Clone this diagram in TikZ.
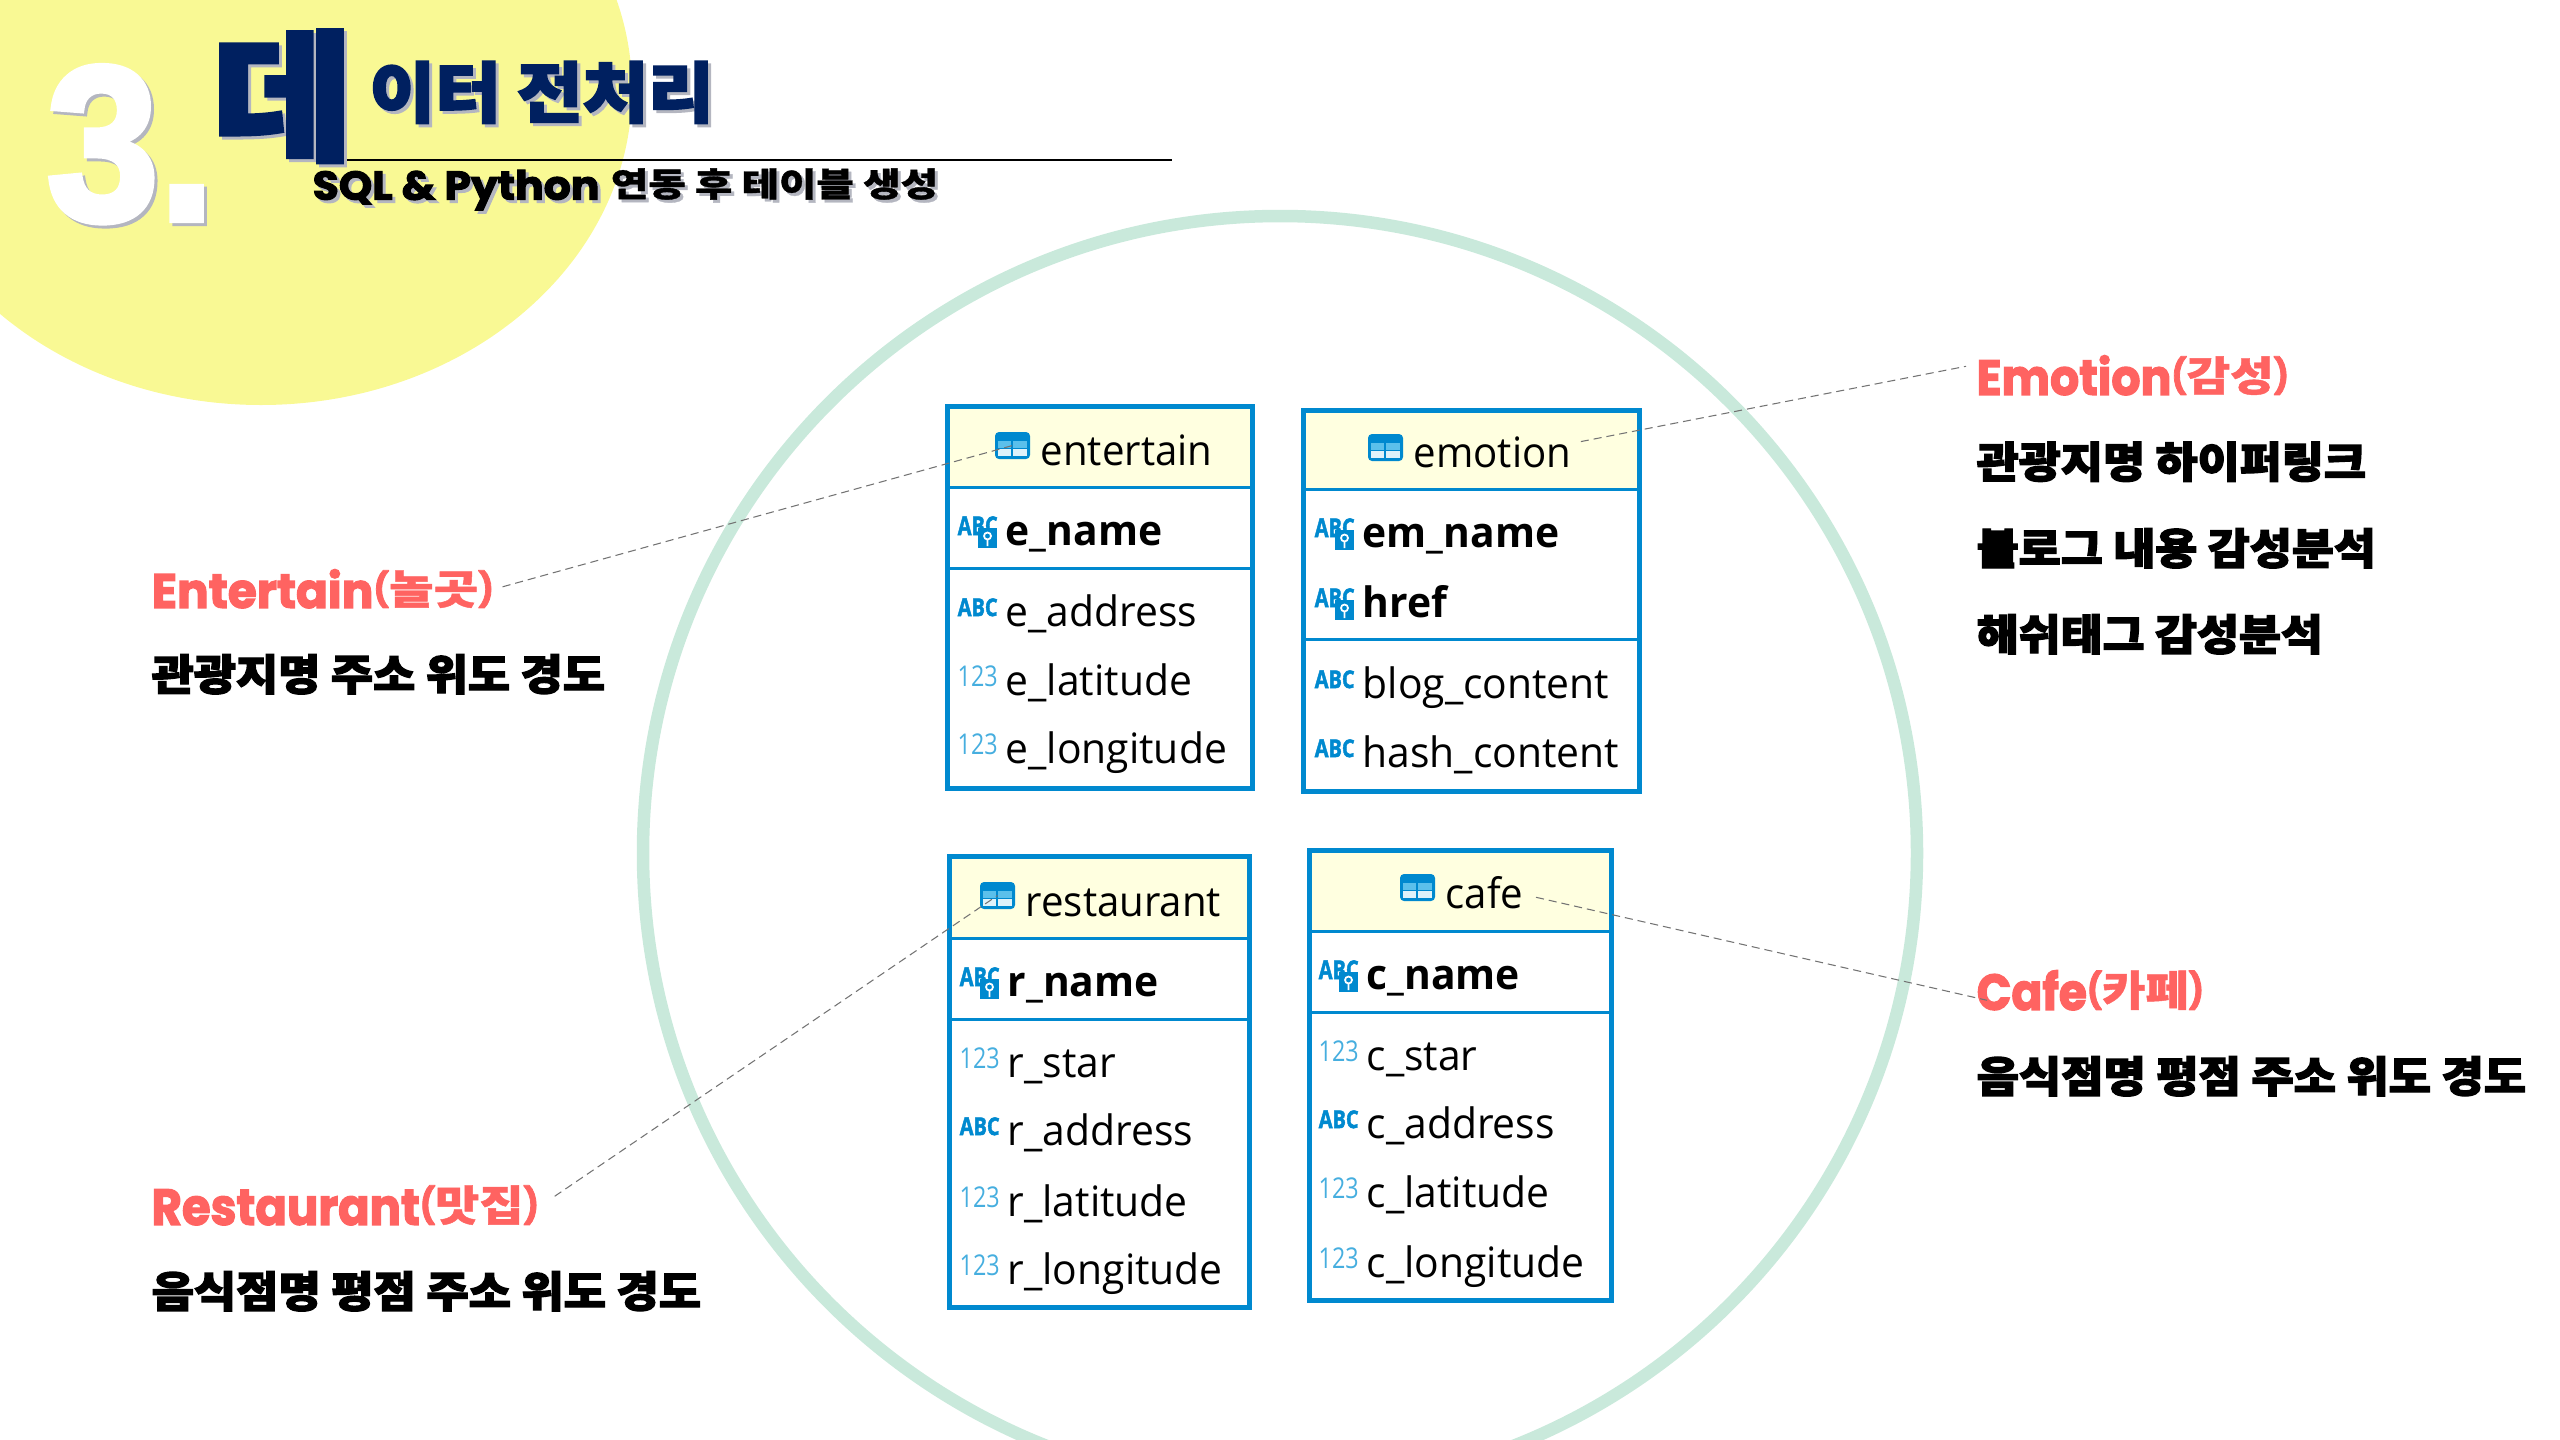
\documentclass[tikz,border=0pt]{standalone}
\usepackage{fontspec}
\usepackage{graphicx}
\usepackage{xcolor}
\usetikzlibrary{positioning}
\newfontfamily\tablefont{Open Sans}[FakeStretch=0.975]
\newfontfamily\headfont{Open Sans}[FakeStretch=0.96]
\newfontfamily\iconfont{Open Sans}[BoldFeatures={FakeBold=2}]
\newfontfamily\latinfont{Poppins}[BoldFeatures={FakeBold=2.5}]
\newfontfamily\numberfont{Liberation Sans}[BoldFeatures={FakeBold=3}]
\newfontfamily\hanfont{Noto Sans CJK KR}[BoldFeatures={FakeBold=3}]
\newfontfamily\hanpairfont{Noto Sans CJK KR}[BoldFeatures={FakeBold=1}]
\definecolor{tblblue}{HTML}{0089CF}
\definecolor{numblue}{HTML}{46AEDF}
\definecolor{cellmid}{HTML}{5BC0EB}
\definecolor{cellpale}{HTML}{DFF2FA}
\definecolor{headyellow}{HTML}{FFFFE0}
\definecolor{ringgreen}{HTML}{C9E9DB}
\definecolor{blobyellow}{HTML}{F9F994}
\definecolor{titlenavy}{HTML}{002060}
\definecolor{labelred}{HTML}{FF6361}
\definecolor{shadowgray}{HTML}{B4B6C0}
\newcommand*{\CapFit}[1]{\raisebox{\depth}{\resizebox*{!}{.78em}{#1}}}
\newcommand*{\HanFit}[2]{\raisebox{\depth}{\resizebox*{#1}{.78em}{\hanpairfont\bfseries #2}}}
\newcommand*{\ShadowFit}[3]{\rlap{\smash{\hspace{.03cm}\raisebox{-.03cm}{\color{shadowgray}\resizebox*{#1}{#2}{#3}}}}\resizebox*{#1}{#2}{#3}}
\tikzset{
 tablebox/.style={draw=tblblue, line width=.05cm, inner sep=0, outer sep=0, anchor=north west},
 headbox/.style={fill=headyellow, inner sep=0, outer sep=0, anchor=north west},
 headline/.style={draw=tblblue, line width=.03cm},
 fieldtext/.style={anchor=base west, inner sep=0, font=\tablefont\fontsize{11.9}{14}\selectfont},
 headtext/.style={anchor=base west, inner sep=0, font=\headfont\fontsize{11.9}{14}\selectfont},
 keytext/.style={fieldtext, font=\tablefont\bfseries\fontsize{11.9}{14}\selectfont},
 abcicon/.style={anchor=south west, inner sep=0, text=tblblue, font=\iconfont\bfseries},
 numicon/.style={anchor=south west, inner sep=0, text=numblue, font=\iconfont},
 tableicon/.style={fill=tblblue, rounded corners=.04cm, inner sep=0, outer sep=0, anchor=north west, minimum width=.35cm, minimum height=.27cm},
 redlabel/.style={anchor=south west, inner sep=0, text=labelred, font=\latinfont\bfseries},
 blacklabel/.style={anchor=south west, inner sep=0, font=\hanfont\bfseries},
 leader/.style={draw=black!55, dash pattern=on 2.3pt off 1.4pt, line width=.3pt}
}
\newcommand*{\DbTable}[7]{%
 \node[headbox, minimum width=#4*0.01cm, minimum height=(#6-#3)*0.01cm] (#1Head) at (#2,#3) {};
 \node[tablebox, minimum width=#4*0.01cm, minimum height=#5*0.01cm] (#1) at (#2,#3) {};
 \draw[headline] (#1Head.south west) -- (#1Head.south east);
 \draw[headline] (#1.west |- 0,#7) -- (#1.east |- 0,#7);
}
\newcommand*{\TableIcon}[3]{%
 \node[tableicon] (#1) at (#2,#3) {};
 \fill[cellmid] (#2+3,#3+9) rectangle (#2+16,#3+16);
 \fill[cellmid] (#2+18,#3+9) rectangle (#2+32,#3+16);
 \fill[cellpale] (#2+3,#3+17) rectangle (#2+16,#3+24);
 \fill[cellpale] (#2+18,#3+17) rectangle (#2+32,#3+24);
}
\newcommand*{\KeyRow}[4]{%
 \node[abcicon] (#1Icon) at (#2-48,#3-9) {\resizebox*{.40cm}{.19cm}{ABC}};
 \fill[tblblue] (#2-27,#3-17) rectangle (#2-8,#3+3);
 \draw[white, line width=.5pt] (#2-17.5,#3-9) circle (3.5) (#2-17.5,#3-5.5) -- (#2-17.5,#3+1);
 \node[keytext] (#1) at (#2,#3) {#4};
}
\newcommand*{\AbcRow}[4]{%
 \node[abcicon] (#1Icon) at (#2-48,#3-9) {\resizebox*{.40cm}{.18cm}{ABC}};
 \node[fieldtext] (#1) at (#2,#3) {#4};
}
\newcommand*{\NumRow}[4]{%
 \node[numicon] (#1Icon) at (#2-48,#3-8) {\resizebox*{.40cm}{.21cm}{123}};
 \node[fieldtext] (#1) at (#2,#3) {#4};
}

\begin{document}
\begin{tikzpicture}[x=0.01cm,y=-0.01cm]
\useasboundingbox (0,0) rectangle (2560,1439);
\clip (0,0) rectangle (2560,1439);

% Background shapes
\fill[blobyellow] (261,90) ellipse [x radius=371, y radius=315];
\draw[ringgreen, line width=.125cm] (1280,853) circle (637);

% Title
\coordinate (ruleStart) at (344,160);
\coordinate (ruleEnd) at (1172,160);
\draw[black, line width=.5pt] (ruleStart) -- (ruleEnd);
\node[anchor=south west, inner sep=0, text=white, font=\numberfont\bfseries] (titleNumber) at (46,223)
    {\ShadowFit{1.68cm}{1.56cm}{3.}};
\node[anchor=south west, inner sep=0, text=titlenavy, font=\hanfont\bfseries] (titleBig) at (212,163)
    {\ShadowFit{1.40cm}{1.32cm}{데}};
\node[anchor=south west, inner sep=0, text=titlenavy, font=\hanfont\bfseries] (titleRest) at (369,124)
    {\ShadowFit{3.44cm}{.62cm}{이터 전처리}};
\node[anchor=south west, inner sep=0, font=\latinfont\bfseries] (subtitle) at (312,211)
    {\ShadowFit{6.25cm}{.42cm}{SQL \& Python\hspace{.27em}\HanFit{7.7em}{연동 후 테이블 생성}}};

% entertain
\DbTable{entertain}{947.5}{406.5}{305}{382}{487}{568}
\TableIcon{entertainIcon}{995}{432}
\node[headtext] (entertainName) at (1040,465) {entertain};
\KeyRow{eName}{1005}{545}{e\_name}
\AbcRow{eAddress}{1005}{626}{e\_address}
\NumRow{eLatitude}{1005}{695}{e\_latitude}
\NumRow{eLongitude}{1005}{763}{e\_longitude}

% emotion
\DbTable{emotion}{1303.5}{410}{336}{381}{489}{639}
\TableIcon{emotionIcon}{1368}{434}
\node[headtext] (emotionName) at (1413,467) {emotion};
\KeyRow{emName}{1362}{547}{em\_name}
\KeyRow{emHref}{1362}{617}{href}
\AbcRow{emBlog}{1362}{698}{blog\_content}
\AbcRow{emHash}{1362}{767}{hash\_content}

% restaurant
\DbTable{restaurant}{949.5}{856.5}{300}{451}{938}{1019}
\TableIcon{restaurantIcon}{980}{882}
\node[headtext] (restaurantName) at (1025,916) {restaurant};
\KeyRow{rName}{1007}{996}{r\_name}
\NumRow{rStar}{1007}{1077}{r\_star}
\AbcRow{rAddress}{1007}{1145}{r\_address}
\NumRow{rLatitude}{1007}{1216}{r\_latitude}
\NumRow{rLongitude}{1007}{1284}{r\_longitude}

% cafe
\DbTable{cafe}{1309.5}{850.5}{302}{450}{931}{1012}
\TableIcon{cafeIcon}{1400}{874}
\node[headtext] (cafeName) at (1445,908) {cafe};
\KeyRow{cName}{1366}{989}{c\_name}
\NumRow{cStar}{1366}{1070}{c\_star}
\AbcRow{cAddress}{1366}{1138}{c\_address}
\NumRow{cLatitude}{1366}{1207}{c\_latitude}
\NumRow{cLongitude}{1366}{1277}{c\_longitude}

% Labels
\node[redlabel] (entertainLabel) at (151,609)
    {\resizebox*{3.42cm}{.39cm}{Entertain\CapFit{(}\HanFit{1.9em}{놀곳}\CapFit{)}}};
\node[blacklabel] (entertainText) at (151,695) {\resizebox*{4.53cm}{.40cm}{관광지명 주소 위도 경도}};
\node[redlabel] (restaurantLabel) at (151,1226)
    {\resizebox*{3.87cm}{.40cm}{Restaurant\CapFit{(}\HanFit{1.9em}{맛집}\CapFit{)}}};
\node[blacklabel] (restaurantText) at (151,1312) {\resizebox*{5.49cm}{.40cm}{음식점명 평점 주소 위도 경도}};
\node[redlabel] (emotionLabel) at (1976,396)
    {\resizebox*{3.12cm}{.40cm}{Emotion\CapFit{(}\HanFit{1.9em}{감성}\CapFit{)}}};
\node[blacklabel] (emotionLinkText) at (1976,482.5) {\resizebox*{3.89cm}{.40cm}{관광지명 하이퍼링크}};
\node[blacklabel] (emotionBlogText) at (1976,569) {\resizebox*{3.99cm}{.40cm}{블로그 내용 감성분석}};
\node[blacklabel] (emotionHashText) at (1976,655) {\resizebox*{3.46cm}{.40cm}{해쉬태그 감성분석}};
\node[redlabel] (cafeLabel) at (1976,1011)
    {\resizebox*{2.27cm}{.40cm}{Cafe\CapFit{(}\HanFit{1.9em}{카페}\CapFit{)}}};
\node[blacklabel] (cafeText) at (1976,1097) {\resizebox*{5.49cm}{.40cm}{음식점명 평점 주소 위도 경도}};

% Leader lines
\draw[leader] ([shift={(8,-2)}]entertainLabel.east) -- (entertainIcon.center);
\draw[leader] ([shift={(15,-9)}]restaurantLabel.east) -- (restaurantIcon.center);
\draw[leader] ([shift={(9,6)}]emotionName.north east) -- ([shift={(-10,-9)}]emotionLabel.west);
\draw[leader] ([shift={(12,22)}]cafeName.north east) -- ([shift={(11,10)}]cafeLabel.west);
\end{tikzpicture}
\end{document}
